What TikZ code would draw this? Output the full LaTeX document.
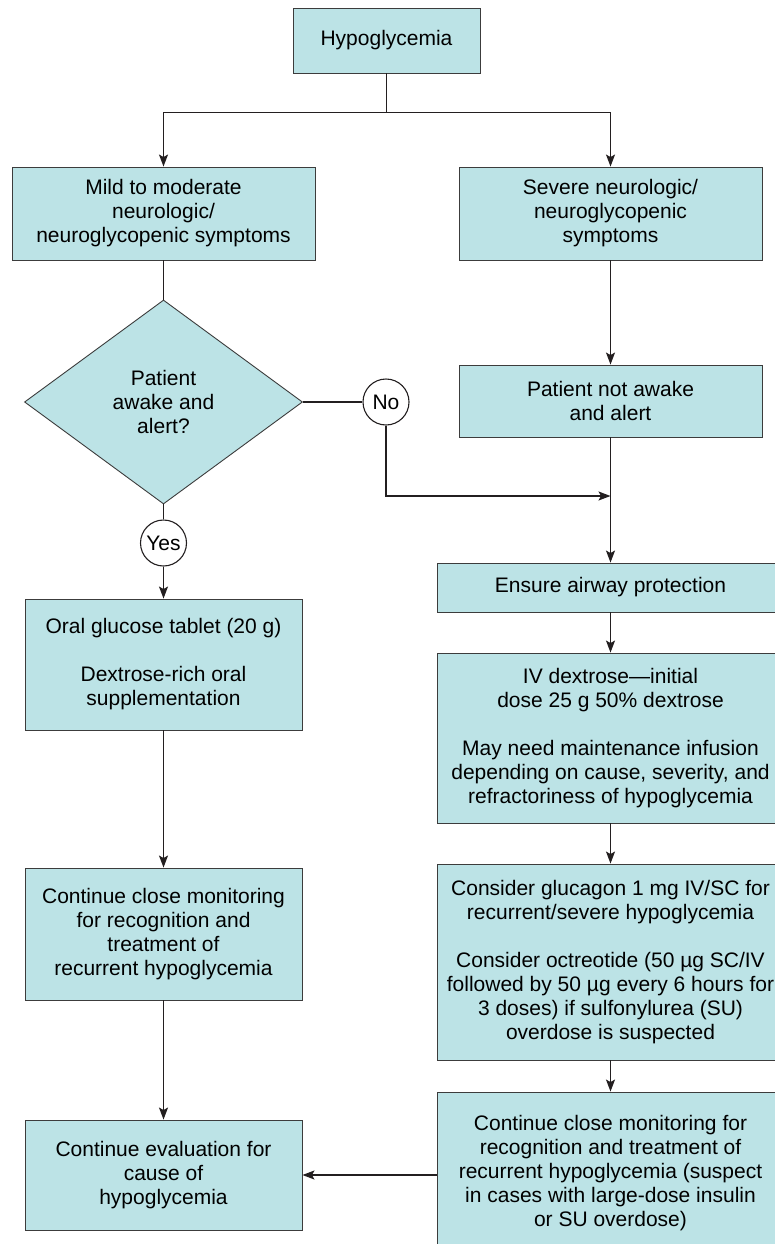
\documentclass[tikz,border=0pt]{standalone}
\usepackage{fontspec}
\setmainfont{Liberation Sans}
\usetikzlibrary{shapes.geometric,arrows.meta}
\definecolor{boxfill}{HTML}{BCE3E6}
\definecolor{boxline}{HTML}{3C3C3C}
\definecolor{wire}{HTML}{231F20}
\begin{document}
\begin{tikzpicture}[x=1pt,y=-1pt,
  every node/.style={font=\fontsize{21}{24}\selectfont, align=center, inner sep=0pt},
  box/.style={rectangle, draw=boxline, line width=0.9pt, fill=boxfill},
  decision/.style={diamond, draw=boxline, line width=0.9pt, fill=boxfill},
  tag/.style={circle, draw=wire, line width=1.1pt, fill=white, minimum size=46pt},
  link/.style={draw=wire, line width=1.4pt},
  arr/.style={link, -{Stealth[length=12pt,width=9pt,inset=2.5pt]}}]
\useasboundingbox (0,0) rectangle (774,1244);

% left column (x = 163.5) and right column (x = 610.5)
\node[box, minimum width=187pt, minimum height=65pt] (top) at (386.5,40.5) {Hypoglycemia};
\node[box, minimum width=303pt, minimum height=93pt] (mild) at (163.5,213.5)
  {Mild to moderate\\ neurologic/\\ neuroglycopenic symptoms};
\node[box, minimum width=303pt, minimum height=93pt] (severe) at (610.5,213.5)
  {Severe neurologic/\\ neuroglycopenic\\ symptoms};
\node[decision, minimum width=278pt, minimum height=204pt] (awake) at (163.5,402)
  {Patient\\ awake and\\ alert?};
\node[tag] (no) at (386,402) {No};
\node[box, minimum width=303pt, minimum height=72pt] (notawake) at (610.5,401)
  {Patient not awake\\ and alert};
\node[tag] (yes) at (163.5,543) {Yes};
\node[box, minimum width=347pt, minimum height=49pt] (airway) at (610.5,587.5)
  {Ensure airway protection};
\node[box, minimum width=277pt, minimum height=131pt] (oral) at (163.5,664.5)
  {Oral glucose tablet (20 g)\\[24pt] Dextrose-rich oral\\ supplementation};
\node[box, minimum width=347pt, minimum height=170pt] (iv) at (610.5,738)
  {IV dextrose—initial\\ dose 25 g 50\% dextrose\\[24pt]
   May need maintenance infusion\\ depending on cause, severity, and\\ refractoriness of hypoglycemia};
\node[box, minimum width=277pt, minimum height=132pt] (monitor) at (163.5,934)
  {Continue close monitoring\\ for recognition and\\ treatment of\\ recurrent hypoglycemia};
\node[box, minimum width=347pt, minimum height=196pt] (glucagon) at (610.5,962)
  {Consider glucagon 1 mg IV/SC for\\ recurrent/severe hypoglycemia\\[24pt]
   Consider octreotide (50 µg SC/IV\\ followed by 50 µg every 6 hours for\\
   3 doses) if sulfonylurea (SU)\\ overdose is suspected};
\node[box, minimum width=277pt, minimum height=110pt] (eval) at (163.5,1175)
  {Continue evaluation for\\ cause of\\ hypoglycemia};
\node[box, minimum width=347pt, minimum height=162pt] (watch) at (610.5,1173)
  {Continue close monitoring for\\ recognition and treatment of\\ recurrent hypoglycemia (suspect\\
   in cases with large-dose insulin\\ or SU overdose)};

% connectors
\draw[link] (top.south) -- ++(0,39) coordinate (split);
\draw[arr] (split) -| (mild.north);
\draw[arr] (split) -| (severe.north);
\draw[link] (mild.south) -- (awake.north);
\draw[link] (awake.east) -- (no.west);
\draw[arr] (severe.south) -- (notawake.north);
\coordinate (join) at (610.5,496);
\draw[arr] (no.south) |- (join);
\draw[arr] (notawake.south) -- (airway.north);
\draw[link] (awake.south) -- (yes.north);
\draw[arr] (yes.south) -- (oral.north);
\draw[arr] (airway.south) -- (iv.north);
\draw[arr] (iv.south) -- (glucagon.north);
\draw[arr] (glucagon.south) -- (watch.north);
\draw[arr] (oral.south) -- (monitor.north);
\draw[arr] (monitor.south) -- (eval.north);
\draw[arr] (watch.west |- eval.east) -- (eval.east);
\end{tikzpicture}
\end{document}
